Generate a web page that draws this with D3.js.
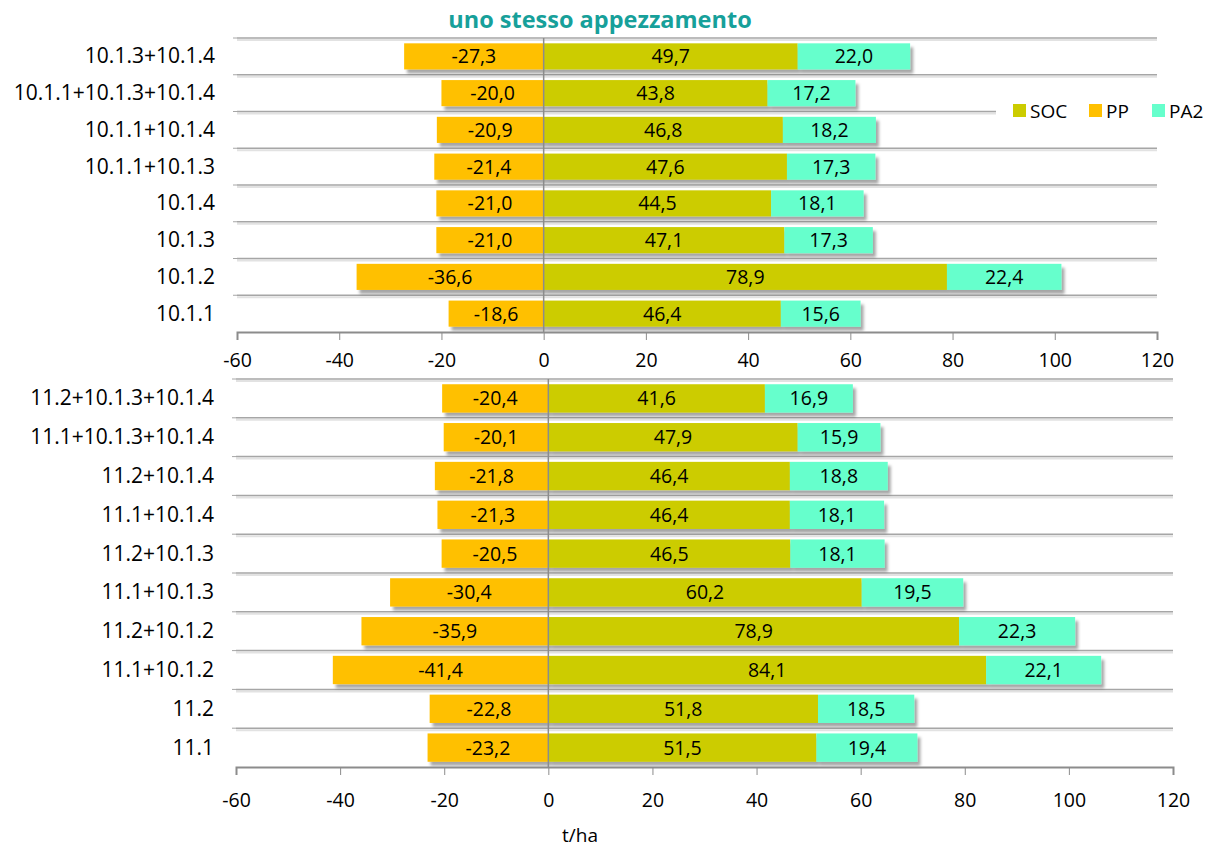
<!DOCTYPE html>
<html>
<head>
<meta charset="utf-8">
<script src="https://cdn.jsdelivr.net/npm/d3@7"></script>
<style>
  body { margin: 0; background: #fff; }
  text { font-family: "Open Sans", sans-serif; }
</style>
</head>
<body>
<div id="chart"></div>
<script>
// data (top to bottom)
var topCats = ['10.1.3+10.1.4', '10.1.1+10.1.3+10.1.4', '10.1.1+10.1.4', '10.1.1+10.1.3',
    '10.1.4', '10.1.3', '10.1.2', '10.1.1']
var topPP = [-27.3, -20.0, -20.9, -21.4, -21.0, -21.0, -36.6, -18.6]
var topSOC = [49.7, 43.8, 46.8, 47.6, 44.5, 47.1, 78.9, 46.4]
var topPA2 = [22.0, 17.2, 18.2, 17.3, 18.1, 17.3, 22.4, 15.6]

var bottomCats = ['11.2+10.1.3+10.1.4', '11.1+10.1.3+10.1.4', '11.2+10.1.4', '11.1+10.1.4',
    '11.2+10.1.3', '11.1+10.1.3', '11.2+10.1.2', '11.1+10.1.2', '11.2', '11.1']
var bottomPP = [-20.4, -20.1, -21.8, -21.3, -20.5, -30.4, -35.9, -41.4, -22.8, -23.2]
var bottomSOC = [41.6, 47.9, 46.4, 46.4, 46.5, 60.2, 78.9, 84.1, 51.8, 51.5]
var bottomPA2 = [16.9, 15.9, 18.8, 18.1, 18.1, 19.5, 22.3, 22.1, 18.5, 19.4]

var xTicks = [-60, -40, -20, 0, 20, 40, 60, 80, 100, 120]
var seriesNames = ['SOC', 'PP', 'PA2']

var colors = { SOC: '#cccc00', PP: '#ffc000', PA2: '#66ffcc' }

var width = 1209
var height = 848

// italian style numbers, plain hyphen for minus
var locale = d3.formatLocale({ decimal: ',', thousands: '.', grouping: [3], currency: ['', ' €'], minus: '-' })
var fmt = locale.format('.1f')
var tickFmt = locale.format('d')

var svg = d3.select('#chart')
    .append('svg')
    .attr('width', width)
    .attr('height', height)

// drop shadow like the office chart
var defs = svg.append('defs')
defs.append('filter')
    .attr('id', 'shadow')
    .attr('x', '-10%').attr('y', '-20%')
    .attr('width', '130%').attr('height', '160%')
    .append('feDropShadow')
    .attr('dx', 3).attr('dy', 4)
    .attr('stdDeviation', 1.8)
    .attr('flood-color', '#000')
    .attr('flood-opacity', 0.35)

// title
svg.append('text')
    .attr('x', 600)
    .attr('y', 28)
    .attr('text-anchor', 'middle')
    .style('font-size', '23.5px')
    .style('font-weight', 'bold')
    .style('fill', '#17a09a')
    .text('uno stesso appezzamento')

drawPanel(topCats, topPP, topSOC, topPA2, { x0: 237, x1: 1157, y0: 38, y1: 332, pad: 0.29, tickY: 367 })
drawPanel(bottomCats, bottomPP, bottomSOC, bottomPA2, { x0: 236, x1: 1173, y0: 379, y1: 767, pad: 0.27, tickY: 807 })

// axis title
svg.append('text')
    .attr('x', 580)
    .attr('y', 842)
    .attr('text-anchor', 'middle')
    .style('font-size', '19px')
    .style('fill', '#000')
    .text('t/ha')

// legend, sits on a white box over the gridline
var legend = svg.append('g')
legend.append('rect')
    .attr('x', 996).attr('y', 92)
    .attr('width', 213).attr('height', 38)
    .style('fill', '#fff')

var legendX = [1013, 1089, 1152]
seriesNames.forEach(function (name, i) {
    legend.append('rect')
        .attr('x', legendX[i]).attr('y', 104)
        .attr('width', 13).attr('height', 13)
        .style('fill', colors[name])
    legend.append('text')
        .attr('x', legendX[i] + 17).attr('y', 118)
        .style('font-size', '19px')
        .text(name)
})

function drawPanel(cats, pp, soc, pa2, o) {

    var x = d3.scaleLinear()
        .domain([-60, 120])
        .range([o.x0, o.x1])

    var y = d3.scaleBand()
        .domain(cats)
        .range([o.y0, o.y1])
        .paddingInner(o.pad)
        .paddingOuter(o.pad / 2)

    var g = svg.append('g')

    // horizontal gridlines between categories
    var edges = cats.map(function (c) { return y(c) - y.step() * y.paddingInner() / 2 })
    g.selectAll('.grid-shade')
        .data(edges)
        .enter()
        .append('line')
        .attr('x1', o.x0).attr('x2', o.x1)
        .attr('y1', function (d) { return d + 2 })
        .attr('y2', function (d) { return d + 2 })
        .style('stroke', '#e2e2e2')
        .style('stroke-width', 2)
    g.selectAll('.grid')
        .data(edges)
        .enter()
        .append('line')
        .attr('x1', o.x0).attr('x2', o.x1)
        .attr('y1', function (d) { return d })
        .attr('y2', function (d) { return d })
        .style('stroke', '#a6a6a6')
        .style('stroke-width', 1.5)

    // small ticks on the category axis
    g.selectAll('.cat-tick')
        .data(edges)
        .enter()
        .append('line')
        .attr('x1', o.x0 - 4).attr('x2', o.x0)
        .attr('y1', function (d) { return d })
        .attr('y2', function (d) { return d })
        .style('stroke', '#a6a6a6')

    // category labels
    g.selectAll('.cat')
        .data(cats)
        .enter()
        .append('text')
        .attr('x', o.x0 - 22)
        .attr('y', function (d) { return y(d) + y.bandwidth() / 2 + 7 })
        .attr('text-anchor', 'end')
        .style('font-size', '21px')
        .text(function (d) { return d })

    // one row per category: PP left of zero, then SOC and PA2 stacked right
    var rows = cats.map(function (c, i) {
        return [
            { key: 'PP', from: pp[i], to: 0, v: pp[i], cat: c },
            { key: 'SOC', from: 0, to: soc[i], v: soc[i], cat: c },
            { key: 'PA2', from: soc[i], to: soc[i] + pa2[i], v: pa2[i], cat: c }
        ]
    })

    var rowG = g.selectAll('.row')
        .data(rows)
        .enter()
        .append('g')
        .attr('filter', 'url(#shadow)')

    rowG.selectAll('rect')
        .data(function (d) { return d })
        .enter()
        .append('rect')
        .attr('x', function (d) { return x(d.from) })
        .attr('width', function (d) { return x(d.to) - x(d.from) })
        .attr('y', function (d) { return y(d.cat) })
        .attr('height', y.bandwidth())
        .style('fill', function (d) { return colors[d.key] })

    // value labels
    g.selectAll('.val')
        .data(d3.merge(rows))
        .enter()
        .append('text')
        .attr('x', function (d) { return (x(d.from) + x(d.to)) / 2 })
        .attr('y', function (d) { return y(d.cat) + y.bandwidth() / 2 + 7 })
        .attr('text-anchor', 'middle')
        .style('font-size', '19.5px')
        .style('fill', '#000')
        .text(function (d) { return fmt(d.v) })

    // zero line
    g.append('line')
        .attr('x1', x(0)).attr('x2', x(0))
        .attr('y1', o.y0).attr('y2', o.y1)
        .style('stroke', '#8c8c8c')
        .style('stroke-width', 1.5)

    // value axis
    var axis = g.append('g')
        .attr('transform', 'translate(0,' + o.y1 + ')')
        .call(d3.axisBottom(x).tickValues(xTicks).tickSize(8).tickPadding(10).tickFormat(tickFmt))
    axis.select('.domain').style('stroke', '#8c8c8c').style('stroke-width', 2)
    axis.selectAll('.tick line').style('stroke', '#8c8c8c')
    axis.selectAll('.tick text')
        .attr('y', o.tickY - o.y1)
        .attr('dy', 0)
        .style('font-size', '19.5px')
        .style('font-family', '"Open Sans", sans-serif')
        .style('fill', '#000')
}
</script>
</body>
</html>
